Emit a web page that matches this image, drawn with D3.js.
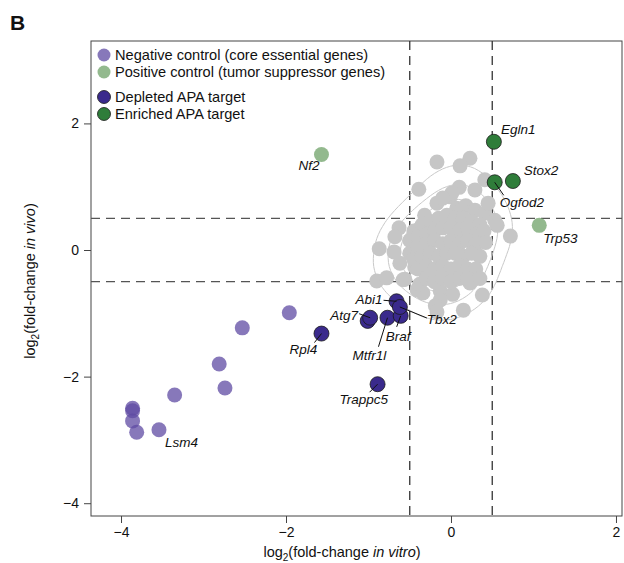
<!DOCTYPE html>
<html>
<head>
<meta charset="utf-8">
<script src="https://cdn.jsdelivr.net/npm/d3@7"></script>
<style>
  html, body { margin: 0; padding: 0; background: #fff; }
  svg { display: block; font-family: "Liberation Sans", Arial, Helvetica, sans-serif; }
</style>
</head>
<body>
<svg id="chart" width="624" height="563"></svg>
<script>
// log2 fold-change (in vitro, in vivo) for each gene in the screen

// Core essential genes (negative controls)
const negativeControls = [
  ["Lsm4", -3.54, -2.84],
  ["", -1.96, -0.99],
  ["", -2.53, -1.23],
  ["", -2.81, -1.80],
  ["", -2.74, -2.18],
  ["", -3.35, -2.29],
  ["", -3.86, -2.50],
  ["", -3.86, -2.54],
  ["", -3.86, -2.70],
  ["", -3.81, -2.88]
];

// Tumor suppressor genes (positive controls)
const positiveControls = [
  ["Nf2", -1.57, 1.51],
  ["Trp53", 1.07, 0.39]
];

// APA targets that drop out in vivo
const depletedTargets = [
  ["Rpl4", -1.57, -1.32],
  ["Trappc5", -0.89, -2.12],
  ["", -1.01, -1.12],
  ["Atg7", -0.98, -1.07],
  ["Mtfr1l", -0.77, -1.07],
  ["Braf", -0.61, -1.04],
  ["Abi1", -0.66, -0.81],
  ["Tbx2", -0.62, -0.90]
];

// APA targets that are enriched in vivo
const enrichedTargets = [
  ["Egln1", 0.52, 1.71],
  ["Ogfod2", 0.53, 1.07],
  ["Stox2", 0.75, 1.09]
];

// Remaining library genes
const otherGenes = [
  [-0.17, 1.39], [0.23, 1.45], [0.11, 1.33], [-0.39, 0.96], [0.10, 0.99],
  [0.29, 0.95], [0.41, 1.11], [-0.17, 0.74], [-0.01, 0.84], [0.07, 0.66],
  [0.18, 0.70], [-0.32, 0.55], [0.29, 0.63], [0.41, 0.58], [0.53, 0.47],
  [0.72, 0.22], [-0.63, 0.35], [-0.68, 0.21], [-0.87, 0.02], [-0.69, -0.03],
  [-0.90, -0.49], [-0.78, -0.44], [-0.56, -0.46], [-0.41, -0.63], [-0.34, -0.68],
  [-0.13, -0.65], [0.02, -0.70], [0.23, -0.52], [0.38, -0.71], [0.15, -0.95],
  [-0.13, -0.79], [0.01, 0.90], [-0.10, 0.82], [0.45, 0.74], [0.13, 0.63],
  [0.56, 0.39], [-0.41, 0.28], [-0.46, 0.00], [-0.62, -0.21], [-0.44, -0.27],
  [-0.58, -0.47], [-0.38, -0.54], [-0.19, -0.88], [-0.17, -0.98],
  [-0.45, 0.30], [-0.35, 0.40], [-0.25, 0.45], [-0.15, 0.50], [-0.05, 0.55],
  [0.05, 0.50], [0.15, 0.50], [0.25, 0.45], [0.35, 0.40],
  [-0.50, 0.15], [-0.40, 0.20], [-0.30, 0.25], [-0.20, 0.30], [-0.10, 0.35],
  [0.00, 0.35], [0.10, 0.30], [0.20, 0.35], [0.30, 0.25], [0.40, 0.30],
  [-0.50, -0.05], [-0.40, 0.05], [-0.30, 0.10], [-0.20, 0.15], [-0.10, 0.10],
  [0.00, 0.15], [0.10, 0.10], [0.20, 0.15], [0.30, 0.10], [0.42, 0.12],
  [-0.45, -0.15], [-0.35, -0.10], [-0.25, -0.05], [-0.15, -0.10], [-0.05, -0.05],
  [0.05, -0.05], [0.15, -0.10], [0.25, -0.05], [0.35, -0.10],
  [-0.40, -0.30], [-0.30, -0.25], [-0.20, -0.30], [-0.10, -0.25], [0.00, -0.30],
  [0.10, -0.25], [0.20, -0.30], [0.30, -0.30],
  [-0.30, -0.45], [-0.20, -0.50], [-0.10, -0.45], [0.00, -0.50], [0.10, -0.45],
  [0.20, -0.45], [0.35, -0.45]
];

const xTicks = [-4, -2, 0, 2];
const yTicks = [2, 0, -2, -4];
const thresholds = [-0.5, 0.5];

const legendItems = [
  { text: "Negative control (core essential genes)", group: "neg" },
  { text: "Positive control (tumor suppressor genes)", group: "pos" },
  { text: "Depleted APA target", group: "dep" },
  { text: "Enriched APA target", group: "enr" }
];

// ---- styling / layout ----
const style = {
  neg: { fill: "#5f4ba3", opacity: 0.75, stroke: "none" },
  pos: { fill: "#78a872", opacity: 0.8, stroke: "none" },
  dep: { fill: "#3a2a8c", opacity: 1, stroke: "#1a1a1a" },
  enr: { fill: "#2f7d3a", opacity: 1, stroke: "#1a1a1a" },
  other: "#c6c6c6"
};

// label placement relative to the point (pixels), with optional leader line end
const labelPlacement = {
  Lsm4:    { dx: 6,   dy: 17, anchor: "start" },
  Nf2:     { dx: -2,  dy: 16, anchor: "end" },
  Trp53:   { dx: 4,   dy: 18, anchor: "start" },
  Egln1:   { dx: 7,   dy: -8, anchor: "start" },
  Stox2:   { dx: 11,  dy: -6, anchor: "start" },
  Ogfod2:  { dx: 5,   dy: 25, anchor: "start", lx: 9, ly: 13 },
  Abi1:    { dx: -14, dy: 3,  anchor: "end",   lx: -13, ly: -1 },
  Tbx2:    { dx: 27,  dy: 17, anchor: "start", lx: 27, ly: 11 },
  Atg7:    { dx: -12, dy: 2,  anchor: "end",   lx: -11, ly: -4 },
  Braf:    { dx: -15, dy: 25, anchor: "start", lx: -4,  ly: 11 },
  Mtfr1l:  { dx: -35, dy: 42, anchor: "start", lx: -9,  ly: 29 },
  Trappc5: { dx: -38, dy: 20, anchor: "start", lx: -8,  ly: 8 },
  Rpl4:    { dx: -32, dy: 20, anchor: "start", lx: -7,  ly: 9 }
};

const frame = { left: 91, right: 622, top: 41, bottom: 516 };
const R = 7.5;

const svg = d3.select("#chart");

const x = d3.scaleLinear().domain([-4.364, 2.073]).range([frame.left, frame.right]);
const y = d3.scaleLinear().domain([-4.202, 3.302]).range([frame.bottom, frame.top]);

// panel letter
svg.append("text").attr("x", 10).attr("y", 30)
  .attr("font-size", 21).attr("font-weight", "bold").attr("fill", "#111").text("B");

// axes
const xAxis = d3.axisBottom(x).tickValues(xTicks).tickSize(7).tickPadding(4)
  .tickFormat(d => d < 0 ? "\u2212" + Math.abs(d) : d);
const yAxis = d3.axisLeft(y).tickValues(yTicks).tickSize(7).tickPadding(5)
  .tickFormat(d => d < 0 ? "\u2212" + Math.abs(d) : d);

const gx = svg.append("g").attr("transform", `translate(0,${frame.bottom})`).call(xAxis);
const gy = svg.append("g").attr("transform", `translate(${frame.left},0)`).call(yAxis);
[gx, gy].forEach(g => {
  g.select(".domain").remove();
  g.selectAll("line").attr("stroke", "#444");
  g.selectAll("text").attr("font-size", 14).attr("fill", "#111")
    .attr("font-family", "'Liberation Sans', Arial, sans-serif");
});

// plot frame
svg.append("rect")
  .attr("x", frame.left).attr("y", frame.top)
  .attr("width", frame.right - frame.left).attr("height", frame.bottom - frame.top)
  .attr("fill", "none").attr("stroke", "#444").attr("stroke-width", 1);

// threshold lines
const dash = "9,6";
const lines = svg.append("g").attr("stroke", "#333").attr("stroke-width", 1.3)
  .attr("stroke-dasharray", dash);
thresholds.forEach(t => {
  lines.append("line").attr("x1", x(t)).attr("x2", x(t))
    .attr("y1", frame.top).attr("y2", frame.bottom);
  lines.append("line").attr("y1", y(t)).attr("y2", y(t))
    .attr("x1", frame.left).attr("x2", frame.right).attr("stroke", "#555");
});

// density contours of library genes (drawn beneath the points)
const density = d3.contourDensity()
  .x(d => x(d[0])).y(d => y(d[1]))
  .size([624, 563]).bandwidth(19).thresholds(5)(otherGenes);
svg.append("g").attr("fill", "none").attr("stroke", "#c9c9c9").attr("stroke-width", 1)
  .selectAll("path").data(density).join("path").attr("d", d3.geoPath());

// library genes
svg.append("g").selectAll("circle").data(otherGenes).join("circle")
  .attr("cx", d => x(d[0])).attr("cy", d => y(d[1])).attr("r", R)
  .attr("fill", style.other);

// highlighted groups
function drawGroup(data, key) {
  const s = style[key];
  svg.append("g").selectAll("circle").data(data).join("circle")
    .attr("cx", d => x(d[1])).attr("cy", d => y(d[2])).attr("r", R)
    .attr("fill", s.fill).attr("fill-opacity", s.opacity)
    .attr("stroke", s.stroke).attr("stroke-width", 0.8);
}
drawGroup(negativeControls, "neg");
drawGroup(positiveControls, "pos");
drawGroup(depletedTargets, "dep");
drawGroup(enrichedTargets, "enr");

// gene labels with leader lines
const labelled = [...negativeControls, ...positiveControls, ...depletedTargets, ...enrichedTargets]
  .filter(d => d[0] && labelPlacement[d[0]]);
const lab = svg.append("g");
labelled.forEach(d => {
  const p = labelPlacement[d[0]];
  const cx = x(d[1]), cy = y(d[2]);
  if (p.lx !== undefined) {
    lab.append("line").attr("x1", cx).attr("y1", cy)
      .attr("x2", cx + p.lx).attr("y2", cy + p.ly)
      .attr("stroke", "#111").attr("stroke-width", 1);
  }
  lab.append("text").attr("x", cx + p.dx).attr("y", cy + p.dy)
    .attr("text-anchor", p.anchor).attr("font-size", 13.5).attr("font-style", "italic")
    .attr("fill", "#111").text(d[0]);
});

// axis titles
const xt = svg.append("text").attr("x", 342).attr("y", 557).attr("text-anchor", "middle")
  .attr("font-size", 14.5).attr("fill", "#111");
xt.append("tspan").text("log");
xt.append("tspan").attr("font-size", 10).attr("dy", 4).text("2");
xt.append("tspan").attr("dy", -4).text("(fold-change ");
xt.append("tspan").attr("font-style", "italic").text("in vitro");
xt.append("tspan").text(")");

const yt = svg.append("text").attr("transform", "translate(35,281) rotate(-90)")
  .attr("text-anchor", "middle").attr("font-size", 14.5).attr("fill", "#111");
yt.append("tspan").text("log");
yt.append("tspan").attr("font-size", 10).attr("dy", 4).text("2");
yt.append("tspan").attr("dy", -4).text("(fold-change ");
yt.append("tspan").attr("font-style", "italic").text("in vivo");
yt.append("tspan").text(")");

// legend
const legendY = [55, 72, 97, 114];
const lg = svg.append("g");
legendItems.forEach((item, i) => {
  const s = style[item.group];
  lg.append("circle").attr("cx", 104).attr("cy", legendY[i]).attr("r", 6.5)
    .attr("fill", s.fill).attr("fill-opacity", s.opacity)
    .attr("stroke", s.stroke).attr("stroke-width", 0.8);
  lg.append("text").attr("x", 115).attr("y", legendY[i] + 5)
    .attr("font-size", 14.6).attr("fill", "#111").text(item.text);
});
</script>
</body>
</html>
